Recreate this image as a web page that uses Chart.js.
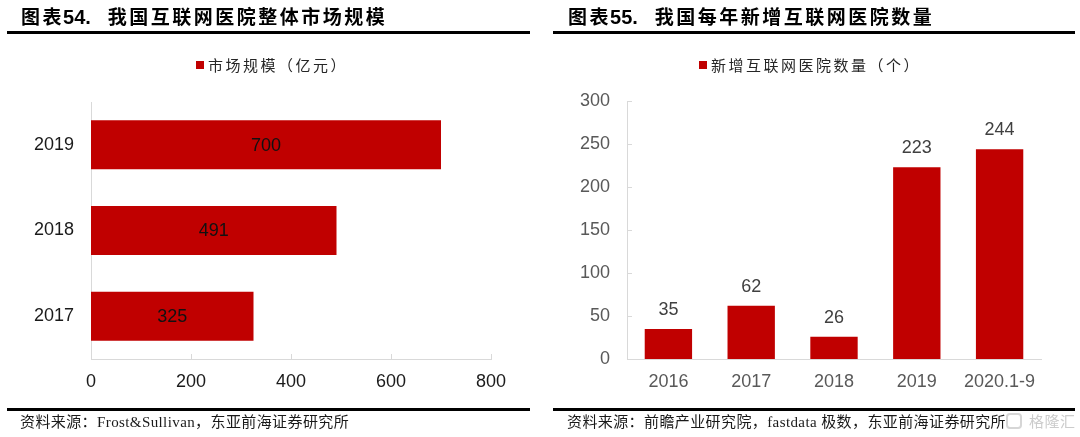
<!DOCTYPE html>
<html>
<head>
<meta charset="utf-8">
<script src="https://cdn.jsdelivr.net/npm/chart.js@4.4.0/dist/chart.umd.min.js"></script>
<style>
  html, body { margin: 0; padding: 0; background: #fff; }
  body { width: 1080px; height: 437px; position: relative; overflow: hidden; }
  canvas { position: absolute; top: 0; }
  .title { position: absolute; top: 5px; height: 25px; line-height: 25px; font-family: "Liberation Sans", "Noto Sans CJK SC", sans-serif; font-weight: bold; font-size: 19px; letter-spacing: 2.5px; color: #000; white-space: nowrap; }
  .title .num { font-size: 20px; letter-spacing: 0; margin-left: -1px; }
  .title .rest { margin-left: 17px; }
  .rule { position: absolute; height: 3px; background: #000; }
  .legend { position: absolute; top: 54px; height: 22px; line-height: 22px; font-family: "Noto Sans CJK SC", sans-serif; font-size: 15px; letter-spacing: 2.5px; color: #262626; white-space: nowrap; }
  .legend .box { position: absolute; width: 8px; height: 8px; top: 7px; }
  .legend .txt { position: absolute; top: 0; }
  .source { position: absolute; top: 411px; height: 22px; line-height: 22px; font-family: "Liberation Serif", "Noto Sans CJK SC", serif; font-size: 15px; letter-spacing: 0.4px; color: #1a1a1a; white-space: nowrap; }
  .wm { position: absolute; left: 1006px; top: 410px; height: 22px; white-space: nowrap; }
  .wm .logo { position: absolute; left: 0; top: 3px; width: 16px; height: 16px; border: 2px solid #d6d6d6; border-radius: 4px; box-sizing: border-box; }
  .wm .wt { position: absolute; left: 23px; top: 0; line-height: 22px; font-family: "Noto Sans CJK SC", sans-serif; font-size: 15px; color: #cccccc; letter-spacing: 0.5px; }
</style>
</head>
<body>
<canvas id="left" width="540" height="437" style="left:0px"></canvas>
<canvas id="right" width="540" height="437" style="left:540px"></canvas>

<div class="title" style="left:21px">图表<span class="num">54.</span><span class="rest">我国互联网医院整体市场规模</span></div>
<div class="rule" style="left:7px; top:31px; width:523px"></div>
<div class="title" style="left:568px">图表<span class="num">55.</span><span class="rest">我国每年新增互联网医院数量</span></div>
<div class="rule" style="left:553px; top:31px; width:522px"></div>

<div class="legend" id="legendLeft" style="left:196px"></div>
<div class="legend" id="legendRight" style="left:699px"></div>

<div class="rule" style="left:7px; top:408px; width:523px"></div>
<div class="rule" style="left:553px; top:408px; width:522px"></div>
<div class="source" style="left:20px">资料来源：Frost&amp;Sullivan，东亚前海证券研究所</div>
<div class="source" style="left:567px">资料来源：前瞻产业研究院，fastdata 极数，东亚前海证券研究所</div>
<div class="wm"><span class="logo"></span><span class="wt">格隆汇</span></div>

<script>
// ---- data ----
const marketYears = ['2019', '2018', '2017'];
const marketValues = [700, 491, 325];
const marketLabel = '市场规模（亿元）';
const marketAxisMin = 0;
const marketAxisMax = 800;
const marketAxisStep = 200;

const newYears = ['2016', '2017', '2018', '2019', '2020.1-9'];
const newCounts = [35, 62, 26, 223, 244];
const newLabel = '新增互联网医院数量（个）';
const countAxisMin = 0;
const countAxisMax = 300;
const countAxisStep = 50;

// ---- styles ----
const RED = '#C00000';
const AXIS = '#d9d9d9';
const TICK_FONT = { family: '"Liberation Sans", Arial, sans-serif', size: 18 };

const valueLabels = {
  id: 'valueLabels',
  afterDatasetsDraw(chart, args, opts) {
    const ctx = chart.ctx;
    const meta = chart.getDatasetMeta(0);
    const data = chart.data.datasets[0].data;
    ctx.save();
    ctx.font = opts.size + 'px ' + opts.family;
    ctx.fillStyle = opts.color;
    ctx.textAlign = 'center';
    ctx.textBaseline = 'middle';
    meta.data.forEach((el, i) => {
      if (opts.inside) {
        const c = el.getCenterPoint();
        ctx.fillText(String(data[i]), c.x, c.y + (opts.dy || 0));
      } else {
        ctx.fillText(String(data[i]), el.x, el.y - opts.offset);
      }
    });
    ctx.restore();
  }
};

const innerTicks = {
  id: 'innerTicks',
  afterDraw(chart, args, opts) {
    const sc = chart.scales[opts.axis];
    const ca = chart.chartArea;
    const ctx = chart.ctx;
    ctx.save();
    ctx.strokeStyle = opts.color;
    ctx.lineWidth = 1;
    ctx.beginPath();
    sc.ticks.forEach(t => {
      const p = Math.round(sc.getPixelForValue(t.value)) + 0.5;
      if (opts.axis === 'x') {
        ctx.moveTo(p, ca.bottom);
        ctx.lineTo(p, ca.bottom - opts.len);
      } else {
        ctx.moveTo(ca.left, p);
        ctx.lineTo(ca.left + opts.len, p);
      }
    });
    ctx.stroke();
    ctx.restore();
  }
};

function buildLegend(elId, chart) {
  const host = document.getElementById(elId);
  chart.data.datasets.forEach(ds => {
    const box = document.createElement('span');
    box.className = 'box';
    box.style.left = '0px';
    box.style.background = ds.backgroundColor;
    const txt = document.createElement('span');
    txt.className = 'txt';
    txt.style.left = '12px';
    txt.textContent = ds.label;
    host.appendChild(box);
    host.appendChild(txt);
  });
}

// ---- left chart: horizontal bars ----
const leftChart = new Chart(document.getElementById('left'), {
  type: 'bar',
  data: {
    labels: marketYears,
    datasets: [{
      label: marketLabel,
      data: marketValues,
      backgroundColor: RED,
      borderWidth: 0,
      barPercentage: 0.572,
      categoryPercentage: 1
    }]
  },
  options: {
    indexAxis: 'y',
    responsive: false,
    animation: false,
    devicePixelRatio: 1,
    layout: { padding: { top: 102, right: 49, bottom: 38, left: 0 } },
    plugins: {
      legend: { display: false },
      tooltip: { enabled: false },
      valueLabels: { inside: true, size: 18, family: '"Liberation Sans", Arial, sans-serif', color: '#111', dy: 1 },
      innerTicks: { axis: 'x', len: 5, color: AXIS }
    },
    scales: {
      x: {
        min: marketAxisMin, max: marketAxisMax,
        ticks: { stepSize: marketAxisStep, color: '#1a1a1a', font: TICK_FONT, padding: 12, maxRotation: 0 },
        grid: { display: false, drawTicks: false },
        border: { display: true, color: AXIS, width: 1 },
        afterFit: s => { s.height = 40; s.paddingLeft = 0; s.paddingRight = 0; }
      },
      y: {
        ticks: { color: '#1a1a1a', font: TICK_FONT, padding: 17 },
        grid: { display: false, drawTicks: false },
        border: { display: true, color: AXIS, width: 1 },
        afterFit: s => { s.width = 91; s.paddingTop = 0; s.paddingBottom = 0; }
      }
    }
  },
  plugins: [valueLabels, innerTicks]
});
buildLegend('legendLeft', leftChart);

// ---- right chart: vertical bars ----
const rightChart = new Chart(document.getElementById('right'), {
  type: 'bar',
  data: {
    labels: newYears,
    datasets: [{
      label: newLabel,
      data: newCounts,
      backgroundColor: RED,
      borderWidth: 0,
      barPercentage: 0.572,
      categoryPercentage: 1
    }]
  },
  options: {
    responsive: false,
    animation: false,
    devicePixelRatio: 1,
    layout: { padding: { top: 101, right: 39, bottom: 38, left: 0 } },
    plugins: {
      legend: { display: false },
      tooltip: { enabled: false },
      valueLabels: { inside: false, offset: 19, size: 18, family: '"Liberation Sans", Arial, sans-serif', color: '#404040' },
      innerTicks: { axis: 'y', len: 5, color: AXIS }
    },
    scales: {
      x: {
        ticks: { color: '#595959', font: TICK_FONT, padding: 12, maxRotation: 0, autoSkip: false },
        grid: { display: false, drawTicks: false },
        border: { display: true, color: AXIS, width: 1 },
        afterFit: s => { s.height = 40; s.paddingLeft = 0; s.paddingRight = 0; }
      },
      y: {
        min: countAxisMin, max: countAxisMax,
        ticks: { stepSize: countAxisStep, color: '#595959', font: TICK_FONT, padding: 17 },
        grid: { display: false, drawTicks: false },
        border: { display: true, color: AXIS, width: 1 },
        afterFit: s => { s.width = 87; s.paddingTop = 0; s.paddingBottom = 0; }
      }
    }
  },
  plugins: [valueLabels, innerTicks]
});
buildLegend('legendRight', rightChart);
</script>
</body>
</html>
